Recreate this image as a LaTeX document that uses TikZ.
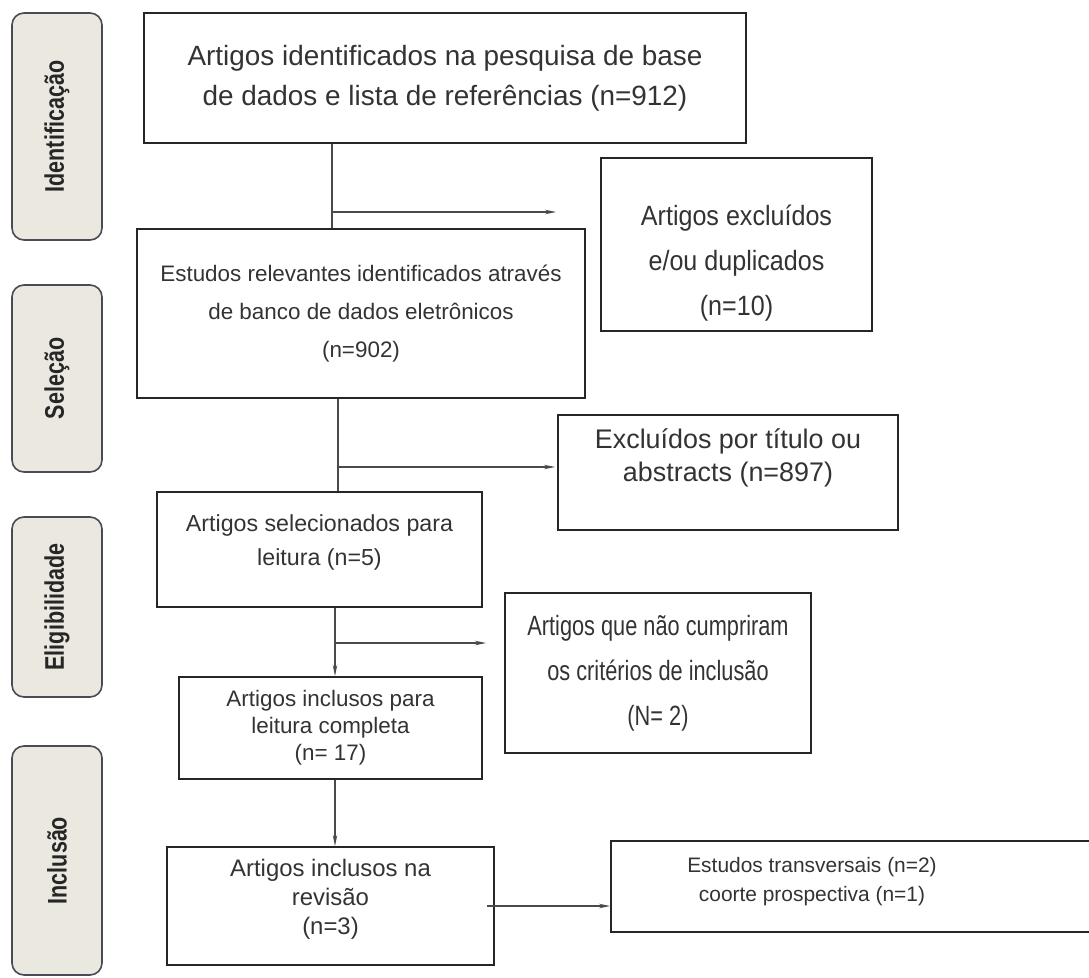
\documentclass[tikz,border=0pt]{standalone}
\usepackage{fontspec}
\setmainfont{Liberation Sans}
\newfontfamily\condfont[FakeStretch=0.78]{Liberation Sans}
\newfontfamily\semicondfont[FakeStretch=0.9]{Liberation Sans}
\newfontfamily\stagefont[FakeStretch=0.8]{Liberation Sans}
\usetikzlibrary{arrows.meta}
\definecolor{textgray}{HTML}{333333}
\definecolor{stagefill}{HTML}{EBE8E0}
\definecolor{stageline}{HTML}{4B4B57}
\definecolor{linkgray}{HTML}{4A4A4A}
\begin{document}
\begin{tikzpicture}[x=1bp,y=-1bp,>={Stealth[length=11bp,width=4.5bp]},
    stage/.style={draw=stageline,fill=stagefill,line width=1.6bp,rounded corners=12bp,rotate=90,
      minimum height=90bp,inner sep=0pt,text=black!85,font=\stagefont\bfseries\fontsize{27}{30}\selectfont},
    box/.style={draw=black!85,line width=2bp,align=center,inner sep=0pt,text=textgray},
    link/.style={draw=linkgray,line width=1.2bp}]
  \useasboundingbox (0,0) rectangle (1089,978);
  % fases
  \node[stage,minimum width=227bp] (fid) at (57,126.5) {Identificação};
  \node[stage,minimum width=187bp] (fsel) at (57,378.5) {Seleção};
  \node[stage,minimum width=180bp] (feleg) at (57,607) {Eligibilidade};
  \node[stage,minimum width=229bp] (finc) at (57,860.5) {Inclusão};
  % caixas
  \node[box,minimum width=602bp,minimum height=130bp,font=\fontsize{28}{40}\selectfont] (ident) at (445,78)
    {Artigos identificados na pesquisa de base\\de dados e lista de referências (n=912)};
  \node[box,minimum width=271bp,minimum height=173bp,font=\semicondfont\fontsize{28}{45}\selectfont] (dup) at (736.5,244.5)
    {\mbox{}\\[13bp]Artigos excluídos\\e/ou duplicados\\(n=10)};
  \node[box,minimum width=448bp,minimum height=169bp,font=\fontsize{22.5}{38}\selectfont] (estudos) at (361,313.5)
    {Estudos relevantes identificados através\\de banco de dados eletrônicos\\(n=902)};
  \node[box,minimum width=340bp,minimum height=115bp,font=\fontsize{27}{33}\selectfont] (titulo) at (728,472.5)
    {Excluídos por título ou\\abstracts (n=897)\\[2bp]\mbox{}};
  \node[box,minimum width=325bp,minimum height=115bp,font=\fontsize{23.3}{35}\selectfont] (selec) at (319.5,549.5)
    {Artigos selecionados para\\leitura (n=5)\\[-16bp]\mbox{}};
  \node[box,minimum width=306bp,minimum height=160bp,font=\condfont\fontsize{28}{45}\selectfont] (naocump) at (658,673)
    {Artigos que não cumpriram\\os critérios de inclusão\\(N= 2)};
  \node[box,minimum width=303bp,minimum height=102bp,font=\fontsize{22.5}{27}\selectfont] (leitura) at (330.5,728)
    {Artigos inclusos para\\leitura completa\\(n= 17)};
  \node[box,minimum width=327bp,minimum height=118bp,font=\fontsize{24}{29}\selectfont] (revisao) at (330.5,906)
    {Artigos inclusos na\\revisão\\(n=3)\\[-10bp]\mbox{}};
  \node[box,minimum width=490bp,minimum height=91bp,font=\fontsize{21}{30}\selectfont] (transv) at (856,886.5)
    {\raisebox{5.5bp}[\height][\depth]{\begin{tabular}{@{}c@{}}Estudos transversais (n=2)\\coorte prospectiva (n=1)\end{tabular}}\hspace*{88bp}};
  % ligacoes
  \coordinate (s1) at (332,212);
  \coordinate (s2) at (338,467);
  \coordinate (s3) at (335,643);
  \draw[link] (ident.south -| s1) -- (estudos.north -| s1);
  \draw[link,->,shorten >=44bp] (s1) -- (dup.west |- s1);
  \draw[link] (estudos.south -| s2) -- (selec.north -| s2);
  \draw[link,->,shorten >=2bp] (s2) -- (titulo.west |- s2);
  \draw[link,->] (selec.south -| s3) -- (leitura.north -| s3);
  \draw[link,->,shorten >=18bp] (s3) -- (naocump.west |- s3);
  \draw[link,->] (leitura.south -| s3) -- (revisao.north -| s3);
  \draw[link,->] ([xshift=-8bp]revisao.east) -- (transv.west |- revisao.east);
\end{tikzpicture}
\end{document}
